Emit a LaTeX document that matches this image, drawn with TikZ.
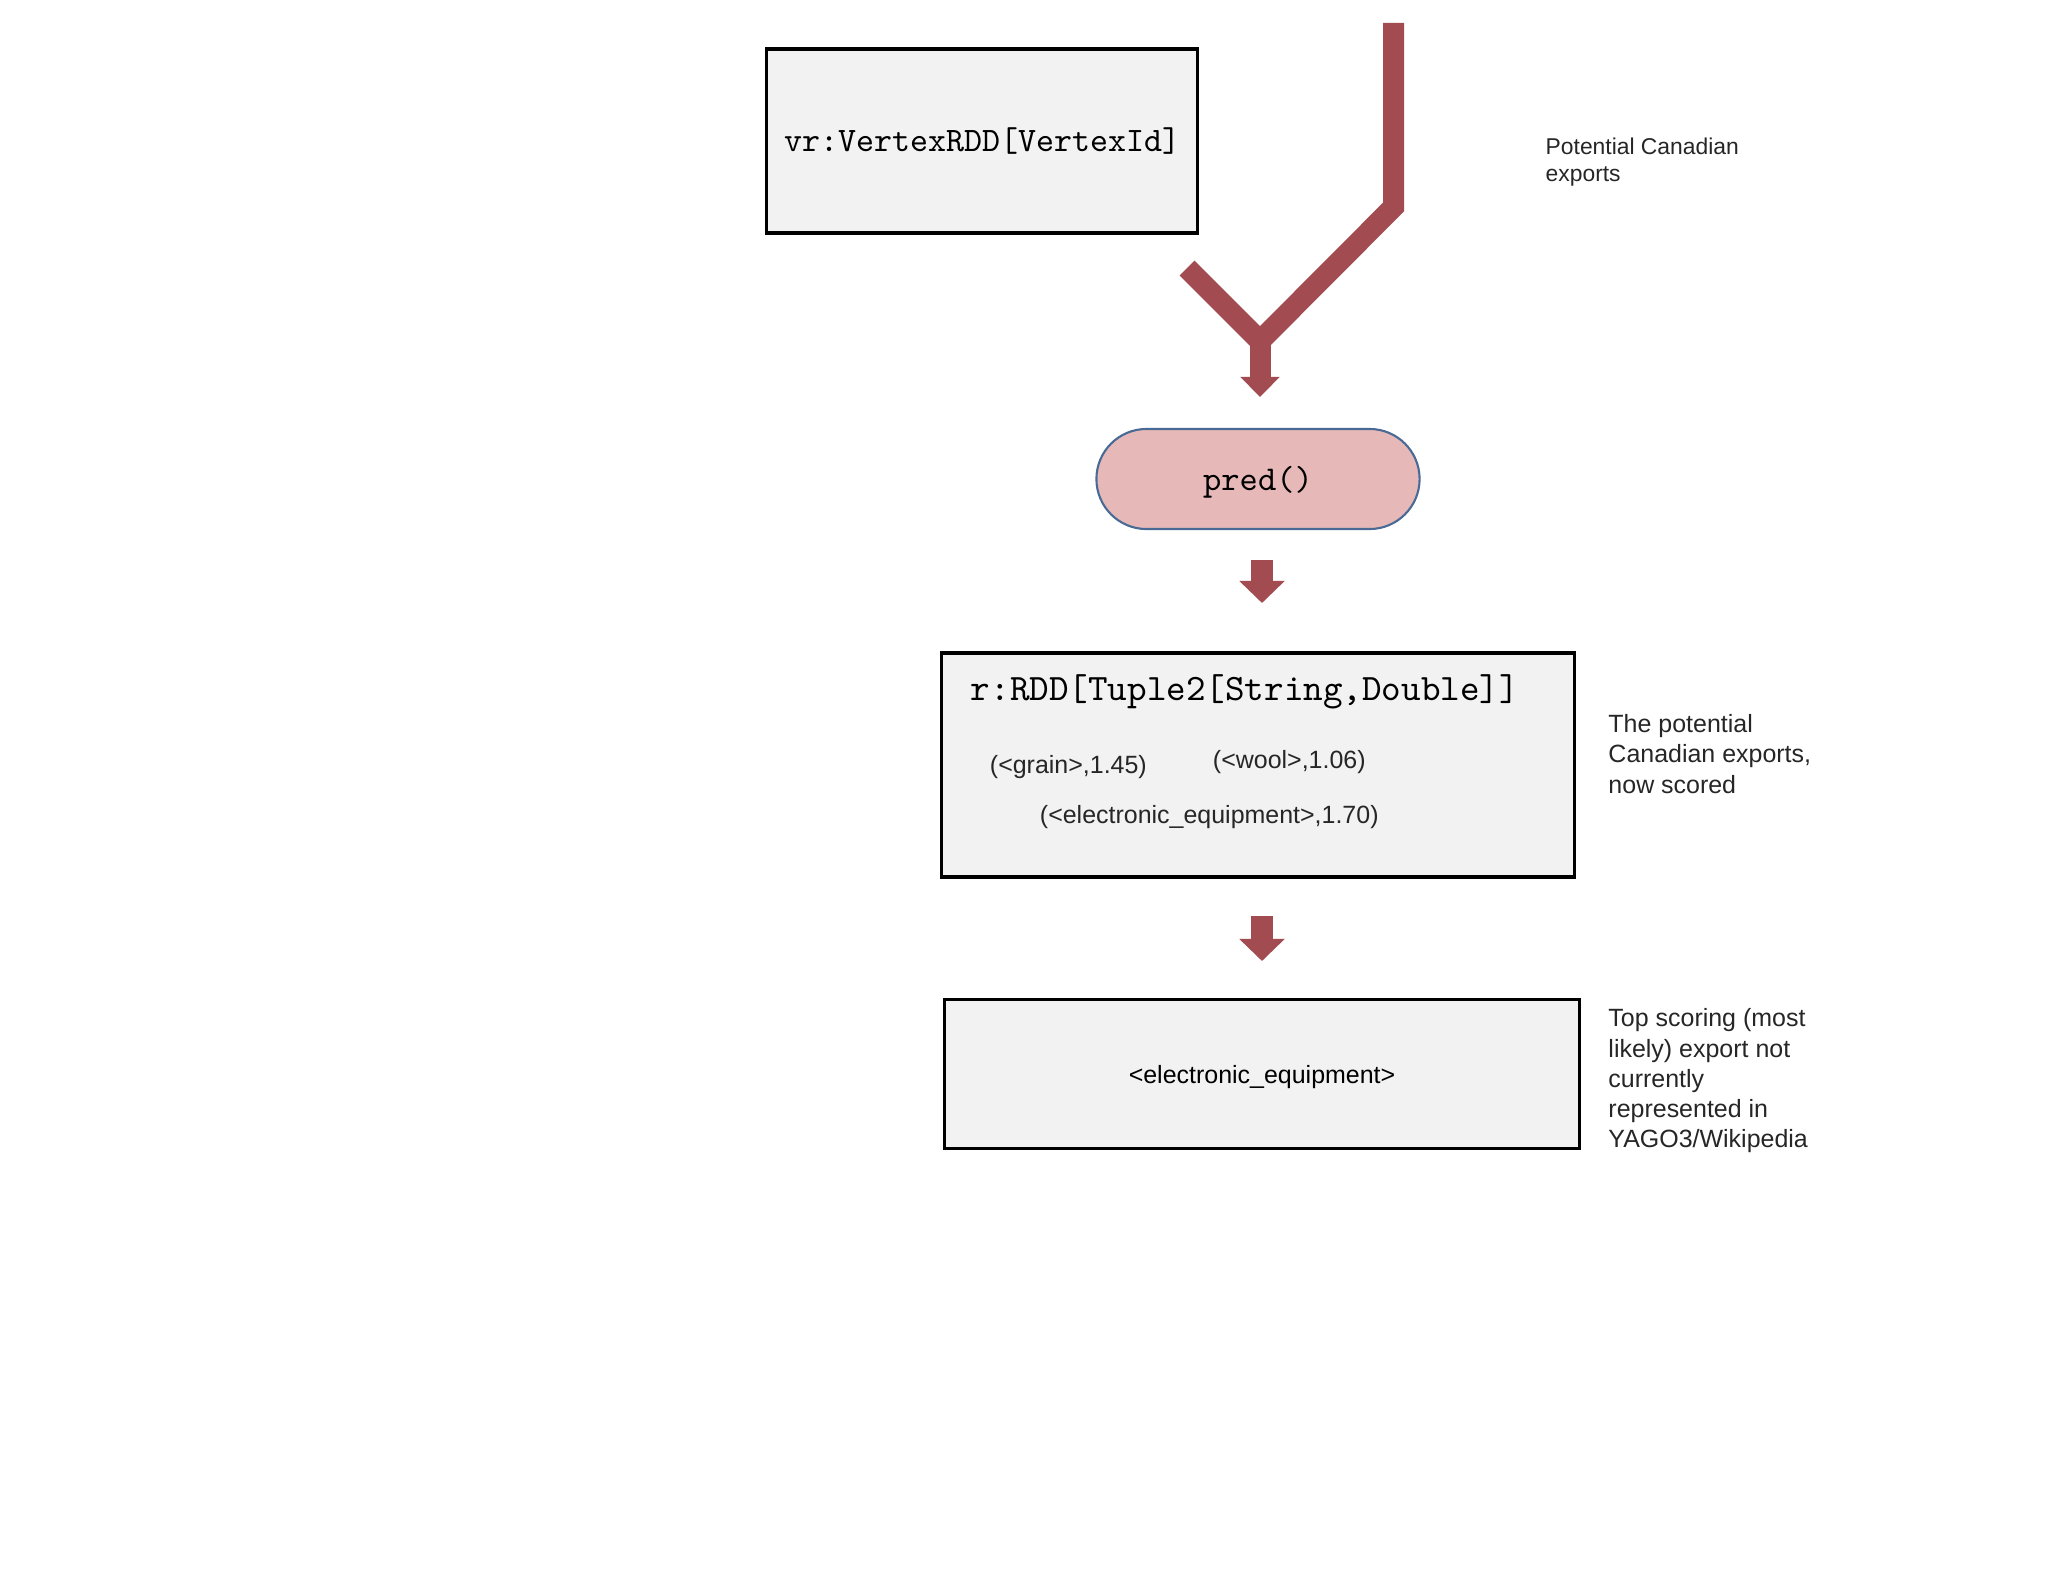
\documentclass[tikz,border=0pt]{standalone}
\usepackage{fontspec}
\newfontfamily\notefont{Liberation Sans}
\usepackage{tikz}
\usetikzlibrary{arrows.meta,positioning,shapes.misc,calc}
\definecolor{flowred}{HTML}{A24B50}
\definecolor{boxgray}{HTML}{F2F2F2}
\definecolor{predpink}{HTML}{E6B9B8}
\definecolor{predblue}{HTML}{4A6A96}
\tikzset{
  typebox/.style={draw=black,line width=0.9pt,fill=boxgray,inner sep=0pt},
  flowline/.style={flowred,line width=0.21cm},
  blockarrow/.style={flowred,line width=0.22cm,-{Triangle[width=0.44cm,length=0.22cm]}},
  note/.style={font=\notefont\fontsize{7.1}{8.6}\selectfont,align=left,inner sep=0pt,text=black!85},
  entry/.style={font=\notefont\fontsize{7.1}{8.6}\selectfont,inner sep=0pt,anchor=west,text=black!85},
}

\begin{document}
\begin{tikzpicture}[x=0.01cm,y=-0.01cm]
    \useasboundingbox (0,0) rectangle (2048,1582);
    % boxes
    \node[typebox,minimum width=4.30cm,minimum height=1.84cm] (vr) at (982,141) {\ttfamily\fontsize{9.75}{11}\selectfont vr:VertexRDD[VertexId]};
    \node[rounded rectangle,draw=predblue,line width=0.6pt,fill=predpink,minimum width=3.23cm,minimum height=1.0cm,inner sep=0pt,text height=0.30cm,text depth=0.066cm] (pred) at (1258,479) {\ttfamily\fontsize{9.9}{11}\selectfont pred()};
    \node[typebox,minimum width=6.32cm,minimum height=2.24cm] (r) at (1258,765) {};
    \node[typebox,minimum width=6.34cm,minimum height=1.49cm,text height=0.24cm,text depth=0.052cm] (res) at (1262,1074) {\notefont\fontsize{7.1}{8.6}\selectfont <electronic\_equipment>};
    % contents of r
    \node[anchor=west,inner sep=0pt] (rtitle) at ($(r.north west)+(30,40)$) {\ttfamily\fontsize{10.6}{12}\selectfont r:RDD[Tuple2[String,Double]]};
    \node[entry] (grain) at ($(r.north west)+(49,116)$) {(<grain>,1.45)};
    \node[entry] (wool) at ($(r.north west)+(272,111)$) {(<wool>,1.06)};
    \node[entry] (elec) at ($(r.north west)+(99,166)$) {(<electronic\_equipment>,1.70)};
    % side notes
    \node[note,anchor=west,font=\notefont\fontsize{6.5}{7.7}\selectfont] (potential) at (1545,162) {Potential Canadian\\exports};
    \node[note,anchor=west] (scored) at ($(r.east)+(32,-11)$) {The potential\\Canadian exports,\\now scored};
    \node[note,anchor=west] (top) at ($(res.east)+(27,7)$) {Top scoring (most\\likely) export not\\currently\\represented in\\YAGO3/Wikipedia};
    % merging flow
    \coordinate (flowtop) at (1393.5,23);
    \coordinate (flowbend) at (1393.5,207);
    \coordinate (flowjoin) at (1260,341);
    \coordinate (flowleft) at (1187,268);
    \coordinate (flowtip) at (1260,397);
    \draw[flowline] (flowtop) -- (flowbend) -- (flowjoin);
    \draw[flowline] (flowleft) -- (flowjoin);
    \draw[flowline,-{Triangle[width=0.38cm,length=0.2cm]}] (flowjoin) -- (flowtip);
    % block arrows
    \coordinate (predout) at (1262,560);
    \coordinate (rin) at (1262,603);
    \coordinate (rout) at (1262,916);
    \coordinate (resin) at (1262,961);
    \draw[blockarrow] (predout) -- (rin);
    \draw[blockarrow] (rout) -- (resin);
  \end{tikzpicture}
\end{document}
